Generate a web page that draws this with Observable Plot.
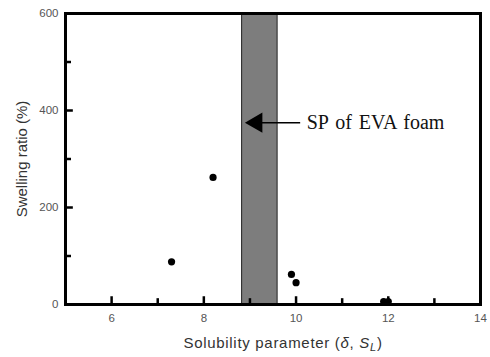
<!DOCTYPE html>
<html>
<head>
<meta charset="utf-8">
<script src="https://cdn.jsdelivr.net/npm/d3@7"></script>
<script src="https://cdn.jsdelivr.net/npm/@observablehq/plot@0.6"></script>
<style>
body { margin: 0; background: #fff; }
</style>
</head>
<body>
<div id="chart"></div>
<script>
// Data
const solubility = [7.3, 8.2, 9.9, 10.0, 11.9, 12.0];
const swelling = [88, 262, 62, 45, 6, 6];
const bandRange = [8.83, 9.6];           // SP of EVA foam band
const arrowY = 375;
const arrowFrom = 10.1, arrowTo = 8.97;
const annotation = "SP of EVA foam";
const xMajor = [6, 8, 10, 12, 14];
const xMinor = [7, 9, 11, 13];
const yMajor = [0, 200, 400, 600];
const yMinor = [100, 300, 500];

const points = solubility.map((x, i) => ({x, y: swelling[i]}));

const plot = Plot.plot({
  width: 490,
  height: 357,
  marginLeft: 65,
  marginRight: 10,
  marginTop: 13,
  marginBottom: 53,
  style: {fontFamily: "Liberation Sans, Arial, sans-serif", fontSize: "11.5px", color: "#000", background: "#fff"},
  x: {domain: [5, 14]},
  y: {domain: [0, 600]},
  marks: [
    Plot.rect([bandRange], {x1: d => d[0], x2: d => d[1], y1: 0, y2: 600, fill: "#7d7d7d", stroke: "#222", strokeWidth: 1}),
    Plot.axisX({ticks: xMajor, tickSize: 0, tickPadding: 9, fill: "#555", label: null}),
    Plot.axisY({ticks: yMajor, tickSize: 0, tickPadding: 7, fill: "#555", label: null}),
    Plot.dot(points, {x: "x", y: "y", r: 3.6, fill: "black"}),
    Plot.ruleY([arrowY], {x1: arrowTo + 0.3, x2: arrowFrom, stroke: "black", strokeWidth: 1.5}),
    Plot.dot([{x: arrowTo, y: arrowY}], {x: "x", y: "y", symbol: "triangle", r: 7.5, rotate: -90, fill: "black", dx: 8}),
    Plot.text([annotation], {x: arrowFrom, y: arrowY, text: d => d, textAnchor: "start", dx: 6, fontFamily: "Liberation Serif, Times New Roman, serif", fontSize: 20, fill: "#111"}),
    Plot.text(["Swelling ratio (%)"], {frameAnchor: "left", textAnchor: "middle", text: d => d, rotate: -90, dx: -43, fontSize: 15, fill: "#333"}),
    Plot.text(["Solubility parameter (δ, S_L)"], {frameAnchor: "bottom", textAnchor: "middle", text: d => d, dy: 43, dx: 10, fontSize: 15, fill: "#333"}),
    // inward ticks and frame drawn last
    Plot.ruleX(xMajor, {x: d => d, y1: 0, y2: 16, stroke: "black", strokeWidth: 2.5}),
    Plot.ruleX(xMinor, {x: d => d, y1: 0, y2: 12, stroke: "black", strokeWidth: 2.5}),
    Plot.ruleY(yMajor, {y: d => d, x1: 5, x2: 5.17, stroke: "black", strokeWidth: 2.5}),
    Plot.ruleY(yMinor, {y: d => d, x1: 5, x2: 5.13, stroke: "black", strokeWidth: 2.5}),
    Plot.frame({stroke: "black", strokeWidth: 3})
  ]
});

// italic subscript S_L in the x label
d3.select(plot).selectAll("text").each(function() {
  const t = d3.select(this);
  if (t.text() === "Solubility parameter (δ, S_L)") {
    t.text(null);
    t.attr("letter-spacing", "0.7px");
    t.append("tspan").text("Solubility parameter (");
    t.append("tspan").attr("font-style", "italic").text("δ");
    t.append("tspan").text(", ");
    t.append("tspan").attr("font-style", "italic").text("S");
    t.append("tspan").attr("font-style", "italic").attr("font-size", "11px").attr("dy", "3").text("L");
    t.append("tspan").attr("dy", "-3").text(")");
  }
  if (t.text() === annotation) t.attr("word-spacing", "2px");
});

document.getElementById("chart").appendChild(plot);
</script>
</body>
</html>
